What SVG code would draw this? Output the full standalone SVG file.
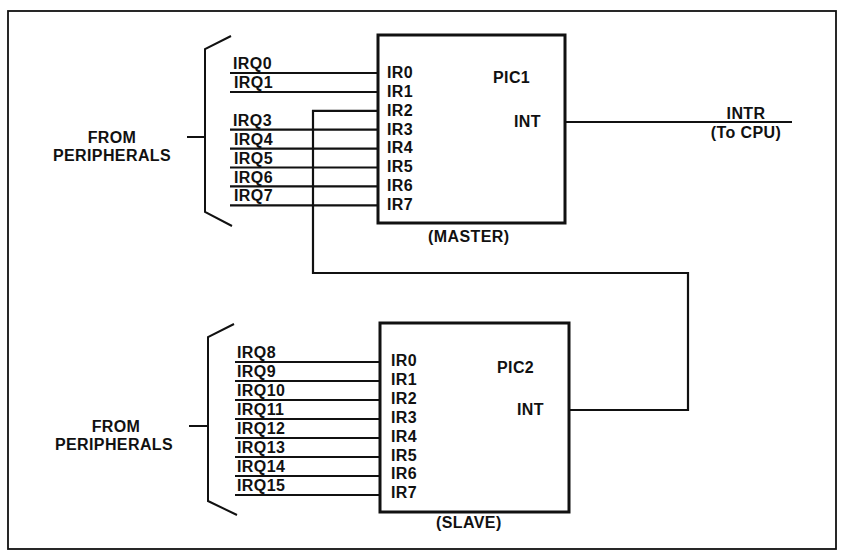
<svg xmlns="http://www.w3.org/2000/svg" width="841" height="552" viewBox="0 0 841 552">
<style>
text{font-family:"Liberation Sans",Arial,sans-serif;font-size:16px;font-weight:bold;letter-spacing:0.4px;fill:#111}
.mid{text-anchor:middle}
.box{fill:#fff;stroke:#111;stroke-width:3}
.w{fill:none;stroke:#111;stroke-width:2.2}
.br{fill:none;stroke:#111;stroke-width:2}
</style>
<rect x="8" y="11" width="828" height="538" fill="#fff" stroke="#111" stroke-width="1.8"/>
<g id="connectors">
<path class="w" d="M230 73H378M230 92H378M230 129.7H378M230 148.6H378M230 167.5H378M230 186.4H378M230 205.3H378"/>
<path class="w" d="M235 362H380M235 381H380M235 400H380M235 419H380M235 438H380M235 457H380M235 476H380M235 495H380"/>
<path class="w" d="M378 110.8H313V273H688V410H569"/>
<path class="w" d="M565 122H792"/>
</g>
<g id="pic1">
<rect class="box" x="378" y="35" width="187" height="188"/>
<text x="493" y="83">PIC1</text>
<text x="514" y="127">INT</text>
<text x="387" y="78">IR0</text>
<text x="387" y="96.9">IR1</text>
<text x="387" y="115.7">IR2</text>
<text x="387" y="134.6">IR3</text>
<text x="387" y="153.4">IR4</text>
<text x="387" y="172.3">IR5</text>
<text x="387" y="191.2">IR6</text>
<text x="387" y="210">IR7</text>
<text x="428" y="242">(MASTER)</text>
</g>
<g id="pic2">
<rect class="box" x="380" y="323" width="189" height="189"/>
<text x="497" y="373">PIC2</text>
<text x="517" y="415">INT</text>
<text x="391" y="366">IR0</text>
<text x="391" y="384.9">IR1</text>
<text x="391" y="403.8">IR2</text>
<text x="391" y="422.7">IR3</text>
<text x="391" y="441.6">IR4</text>
<text x="391" y="460.5">IR5</text>
<text x="391" y="479.4">IR6</text>
<text x="391" y="498.3">IR7</text>
<text x="436" y="528">(SLAVE)</text>
</g>
<g id="master-inputs">
<path class="br" d="M231 36L205 49V212L232 226M187 137H205"/>
<text class="mid" x="112" y="143">FROM</text>
<text class="mid" x="112" y="161">PERIPHERALS</text>
<text x="233" y="69">IRQ0</text>
<text x="234" y="88">IRQ1</text>
<text x="233" y="125.5">IRQ3</text>
<text x="234" y="144.5">IRQ4</text>
<text x="234" y="163.5">IRQ5</text>
<text x="234" y="182.5">IRQ6</text>
<text x="234" y="201">IRQ7</text>
</g>
<g id="slave-inputs">
<path class="br" d="M234 324L208 337V501L237 515M189 426H208"/>
<text class="mid" x="116" y="432">FROM</text>
<text class="mid" x="114" y="450">PERIPHERALS</text>
<text x="237" y="358">IRQ8</text>
<text x="237" y="377">IRQ9</text>
<text x="237" y="396">IRQ10</text>
<text x="237" y="415">IRQ11</text>
<text x="237" y="434">IRQ12</text>
<text x="237" y="453">IRQ13</text>
<text x="237" y="472">IRQ14</text>
<text x="237" y="491">IRQ15</text>
</g>
<g id="intr">
<text class="mid" x="746" y="119">INTR</text>
<text class="mid" x="746" y="138">(To CPU)</text>
</g>
</svg>
